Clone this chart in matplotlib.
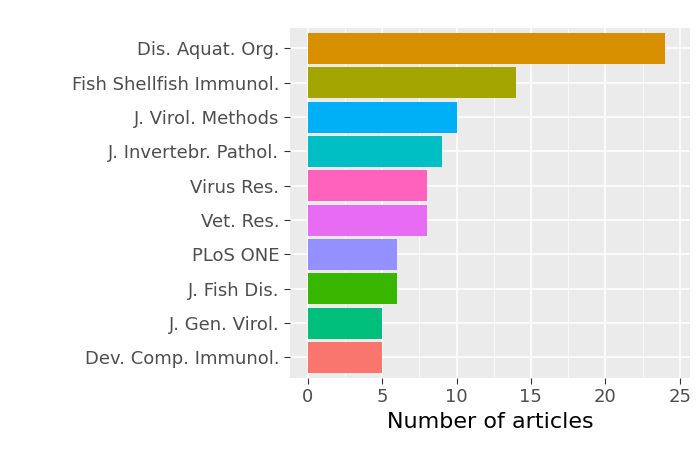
import matplotlib
matplotlib.use("Agg")
import matplotlib.pyplot as plt

journals = ["Dev. Comp. Immunol.", "J. Gen. Virol.", "J. Fish Dis.", "PLoS ONE",
            "Vet. Res.", "Virus Res.", "J. Invertebr. Pathol.", "J. Virol. Methods",
            "Fish Shellfish Immunol.", "Dis. Aquat. Org."]
counts = [5, 5, 6, 6, 8, 8, 9, 10, 14, 24]
colors = ["#F8766D", "#00BF7D", "#39B600", "#9590FF", "#E76BF3",
          "#FF62BC", "#00BFC4", "#00B0F6", "#A3A500", "#D89000"]

fig = plt.figure(figsize=(7, 4.5), dpi=100)
ax = fig.add_axes([0.414, 0.16, 0.572, 0.778])
ax.set_facecolor("#EBEBEB")
ax.barh(range(len(journals)), counts, height=0.9, color=colors, zorder=2)
ax.set_yticks(range(len(journals)))
ax.set_yticklabels(journals)
ax.set_xlim(-1.2, 25.7)
ax.set_ylim(-0.6, 9.6)
ax.set_xticks([0, 5, 10, 15, 20, 25])
ax.set_xticks([2.5, 7.5, 12.5, 17.5, 22.5], minor=True)
ax.grid(True, which="major", color="white", linewidth=1.1, zorder=0)
ax.grid(True, which="minor", axis="x", color="white", linewidth=0.5, zorder=0)
ax.tick_params(axis="both", which="major", labelsize=13, labelcolor="#4D4D4D",
               color="#333333", length=4)
ax.tick_params(axis="x", which="minor", length=0)
for s in ax.spines.values():
    s.set_visible(False)
ax.set_xlabel("Number of articles", fontsize=16, color="black")

fig.savefig("out.png", dpi=100)
